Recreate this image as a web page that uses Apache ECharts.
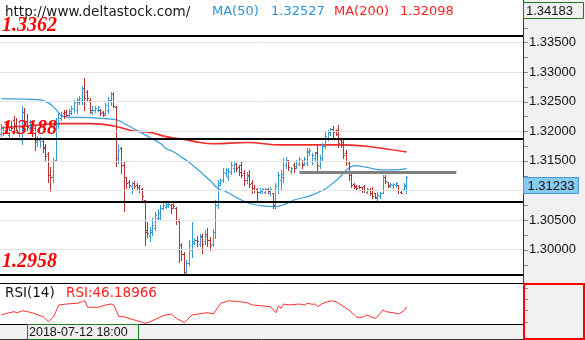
<!DOCTYPE html>
<html>
<head>
<meta charset="utf-8">
<script src="https://cdn.jsdelivr.net/npm/echarts@6/dist/echarts.min.js"></script>
<style>
  html, body { margin: 0; padding: 0; background: #ffffff; }
  #chart { width: 585px; height: 340px; }
</style>
</head>
<body>
<div id="chart"></div>
<script>
// Hourly OHLC bars, oldest first
const openPrices = [
  1.3196,1.3201,1.3213,1.3194,1.3209,1.3219,1.3211,1.3199,1.3186,1.3233,
  1.3218,1.3206,1.3213,1.3206,1.3182,1.3186,1.3184,1.3174,1.3162,1.3127,
  1.3122,1.3152,1.3213,1.3223,1.3231,1.3233,1.3228,1.3231,1.3238,1.3236,
  1.3250,1.3253,1.3273,1.3267,1.3253,1.3233,1.3236,1.3236,1.3236,1.3233,
  1.3231,1.3236,1.3252,1.3263,1.3241,1.3155,1.3172,1.3143,1.3122,1.3115,
  1.3108,1.3113,1.3110,1.3106,1.3103,1.3084,1.3034,1.3024,1.3030,1.3037,
  1.3054,1.3054,1.3071,1.3073,1.3074,1.3076,1.3078,1.3071,1.3049,1.3008,
  1.2992,1.2963,1.2978,1.3000,1.3012,1.3017,1.3010,1.3024,1.3014,1.3027,
  1.3017,1.3010,1.3030,1.3076,1.3113,1.3118,1.3130,1.3122,1.3132,1.3138,
  1.3145,1.3140,1.3143,1.3130,1.3118,1.3127,1.3113,1.3105,1.3103,1.3098,
  1.3100,1.3098,1.3103,1.3096,1.3095,1.3074,1.3101,1.3118,1.3122,1.3143,
  1.3150,1.3133,1.3143,1.3142,1.3145,1.3149,1.3145,1.3147,1.3165,1.3149,
  1.3155,1.3165,1.3142,1.3155,1.3176,1.3189,1.3198,1.3204,1.3201,1.3203,
  1.3186,1.3182,1.3164,1.3147,1.3127,1.3111,1.3108,1.3108,1.3106,1.3108,
  1.3098,1.3101,1.3101,1.3095,1.3088,1.3091,1.3096,1.3123,1.3115,1.3108,
  1.3110,1.3110,1.3110,1.3098,1.3103,1.3108
];
const highPrices = [
  1.3213,1.3209,1.3216,1.3206,1.3218,1.3225,1.3223,1.3213,1.3243,1.3240,
  1.3230,1.3219,1.3218,1.3211,1.3192,1.3191,1.3187,1.3179,1.3165,1.3140,
  1.3155,1.3223,1.3231,1.3233,1.3236,1.3236,1.3238,1.3243,1.3253,1.3257,
  1.3260,1.3277,1.3290,1.3270,1.3257,1.3243,1.3243,1.3243,1.3238,1.3235,
  1.3248,1.3258,1.3267,1.3267,1.3243,1.3177,1.3174,1.3149,1.3123,1.3118,
  1.3115,1.3116,1.3113,1.3110,1.3105,1.3084,1.3046,1.3039,1.3054,1.3064,
  1.3068,1.3076,1.3079,1.3079,1.3079,1.3078,1.3078,1.3073,1.3052,1.3012,
  1.2997,1.2983,1.3017,1.3047,1.3019,1.3024,1.3027,1.3027,1.3034,1.3037,
  1.3022,1.3035,1.3084,1.3118,1.3120,1.3138,1.3138,1.3138,1.3149,1.3149,
  1.3147,1.3143,1.3149,1.3135,1.3132,1.3135,1.3118,1.3110,1.3105,1.3105,
  1.3105,1.3105,1.3105,1.3106,1.3096,1.3113,1.3132,1.3135,1.3155,1.3157,
  1.3152,1.3140,1.3147,1.3152,1.3157,1.3152,1.3157,1.3171,1.3172,1.3164,
  1.3165,1.3177,1.3160,1.3181,1.3198,1.3203,1.3206,1.3209,1.3203,1.3211,
  1.3189,1.3189,1.3169,1.3149,1.3130,1.3113,1.3110,1.3110,1.3106,1.3110,
  1.3105,1.3105,1.3106,1.3096,1.3098,1.3098,1.3127,1.3127,1.3115,1.3113,
  1.3113,1.3115,1.3110,1.3100,1.3113,1.3125
];
const lowPrices = [
  1.3192,1.3194,1.3198,1.3189,1.3201,1.3203,1.3198,1.3192,1.3179,1.3203,
  1.3203,1.3199,1.3192,1.3169,1.3176,1.3174,1.3165,1.3149,1.3115,1.3100,
  1.3115,1.3149,1.3206,1.3219,1.3223,1.3226,1.3225,1.3230,1.3233,1.3231,
  1.3246,1.3246,1.3236,1.3253,1.3231,1.3230,1.3233,1.3235,1.3228,1.3225,
  1.3228,1.3231,1.3245,1.3241,1.3142,1.3147,1.3130,1.3066,1.3105,1.3106,
  1.3096,1.3105,1.3101,1.3098,1.3081,1.3008,1.3022,1.3015,1.3025,1.3034,
  1.3051,1.3051,1.3068,1.3071,1.3073,1.3062,1.3071,1.3044,1.2980,1.2983,
  1.2958,1.2958,1.2975,1.2988,1.3010,1.3007,1.3007,1.2995,1.3010,1.3007,
  1.3000,1.3007,1.3020,1.3071,1.3110,1.3115,1.3125,1.3118,1.3128,1.3132,
  1.3133,1.3127,1.3122,1.3110,1.3113,1.3106,1.3096,1.3098,1.3081,1.3096,
  1.3095,1.3096,1.3096,1.3093,1.3071,1.3071,1.3096,1.3101,1.3115,1.3138,
  1.3135,1.3130,1.3132,1.3138,1.3143,1.3138,1.3143,1.3143,1.3160,1.3145,
  1.3152,1.3130,1.3138,1.3152,1.3172,1.3186,1.3194,1.3189,1.3194,1.3174,
  1.3174,1.3155,1.3143,1.3118,1.3106,1.3105,1.3101,1.3105,1.3098,1.3098,
  1.3096,1.3093,1.3088,1.3088,1.3083,1.3088,1.3095,1.3113,1.3106,1.3106,
  1.3105,1.3106,1.3096,1.3096,1.3101,1.3096
];
const closePrices = [
  1.3206,1.3208,1.3203,1.3203,1.3206,1.3209,1.3203,1.3209,1.3233,1.3216,
  1.3208,1.3213,1.3203,1.3186,1.3189,1.3187,1.3172,1.3159,1.3127,1.3122,
  1.3149,1.3213,1.3223,1.3228,1.3226,1.3228,1.3235,1.3240,1.3250,1.3253,
  1.3257,1.3273,1.3257,1.3257,1.3236,1.3236,1.3240,1.3241,1.3231,1.3228,
  1.3245,1.3252,1.3263,1.3243,1.3155,1.3169,1.3143,1.3122,1.3113,1.3110,
  1.3113,1.3108,1.3106,1.3101,1.3091,1.3030,1.3029,1.3034,1.3042,1.3059,
  1.3062,1.3071,1.3076,1.3078,1.3078,1.3071,1.3074,1.3051,1.3008,1.2992,
  1.2963,1.2978,1.3008,1.3015,1.3017,1.3014,1.3022,1.3010,1.3024,1.3017,
  1.3008,1.3030,1.3076,1.3110,1.3116,1.3132,1.3135,1.3133,1.3143,1.3145,
  1.3138,1.3132,1.3127,1.3118,1.3125,1.3111,1.3101,1.3101,1.3098,1.3101,
  1.3103,1.3103,1.3100,1.3103,1.3076,1.3108,1.3127,1.3128,1.3149,1.3152,
  1.3140,1.3138,1.3138,1.3149,1.3154,1.3143,1.3154,1.3167,1.3169,1.3160,
  1.3164,1.3143,1.3155,1.3176,1.3192,1.3199,1.3204,1.3198,1.3196,1.3181,
  1.3177,1.3160,1.3149,1.3127,1.3110,1.3106,1.3105,1.3106,1.3101,1.3101,
  1.3103,1.3096,1.3091,1.3089,1.3093,1.3096,1.3123,1.3116,1.3110,1.3111,
  1.3111,1.3113,1.3101,1.3096,1.3110,1.31233
];

// Moving averages, as [bar index, value]
const ma50Points = [
  [0,1.3255],[11,1.3254],[15,1.3253],[18,1.3248],[20,1.3241],[22,1.3231],[23,1.3226],
  [25,1.3224],[34,1.3223],[43,1.3220],[45,1.3218],[47,1.3213],[50,1.3206],[53,1.3199],
  [57,1.3189],[61,1.3179],[63,1.3171],[66,1.3165],[68,1.3159],[72,1.3147],[76,1.3132],
  [80,1.3116],[83,1.3103],[86,1.3098],[90,1.3088],[95,1.3078],[100,1.3074],[105,1.3073],
  [108,1.3076],[112,1.3084],[118,1.3091],[124,1.3103],[127,1.3113],[130,1.3125],
  [132,1.3135],[135,1.3142],[139,1.3140],[145,1.3135],[150,1.3135],[155,1.3137]
];
const ma200Points = [
  [0,1.3206],[7,1.3208],[15,1.3211],[22,1.3213],[34,1.3213],[43,1.3209],[50,1.3201],
  [57,1.3198],[63,1.3191],[70,1.3186],[76,1.3181],[81,1.3179],[94,1.3181],[107,1.3177],
  [119,1.3177],[131,1.3177],[141,1.3174],[155,1.3165]
];

// RSI(14), as [bar index, value]
const rsiPoints = [
  [0,36.3],[3,39.1],[5,40.4],[6,38.8],[8,41.6],[10,40.4],[12,38.8],[16,34.1],[18,27.9],
  [20,34.1],[22,48.8],[25,50.0],[29,50.9],[31,52.9],[32,54.1],[33,45.9],[37,45.9],
  [40,48.8],[42,50.0],[43,48.8],[45,34.1],[47,34.1],[50,30.9],[55,25.9],[57,27.9],
  [61,34.1],[63,36.3],[65,37.5],[67,32.1],[70,26.6],[71,30.0],[73,36.3],[77,38.4],
  [79,39.1],[81,37.5],[84,50.9],[87,54.1],[91,52.9],[94,51.6],[96,48.8],[100,47.5],
  [103,46.6],[105,39.1],[106,47.5],[107,44.6],[108,50.0],[110,48.8],[114,50.0],
  [116,48.8],[117,50.9],[119,49.6],[120,50.0],[121,46.6],[123,50.9],[126,54.1],
  [128,52.9],[130,48.8],[131,46.6],[133,42.5],[135,36.3],[136,33.4],[138,33.4],
  [140,36.3],[141,34.1],[143,32.1],[144,35.0],[146,42.5],[147,40.4],[150,39.1],
  [152,37.5],[154,41.6],[155,46.19]
];

// Price axis
const priceTicks = [1.300, 1.305, 1.310, 1.315, 1.320, 1.325, 1.330, 1.335];
const priceTickMarks = [1.2975, 1.3000, 1.3025, 1.3050, 1.3075, 1.3100, 1.3125, 1.3150,
  1.3175, 1.3200, 1.3225, 1.3250, 1.3275, 1.3300, 1.3325, 1.3350, 1.3375, 1.3400];
const rsiTickMarks = [70, 56, 42, 28];
const axisTopPrice = 1.34183;
const axisBottomPrice = 1.29489;
const rsiRange = [25, 75];
const slotRange = [-0.5, 199.5];

// Drawn levels
const levelLines = [1.3362, 1.3188, 1.30805, 1.2958];
const labelledLevels = [1.3362, 1.3188, 1.2958];
const channelLevel = 1.3130;
const channelSpan = [114, 174];

// Header texts
const siteText = 'http://www.deltastock.com/';
const ma50Text = ['MA(50)', '1.32527'];
const ma200Text = ['MA(200)', '1.32098'];
const rsiText = ['RSI(14)', 'RSI:46.18966'];
const cursorTime = '2018-07-12 18:00';

const UP = '#3399d9';
const DOWN = '#b83030';

const bars = openPrices.map((o, i) => [i, o, closePrices[i], lowPrices[i], highPrices[i]]);

function renderOhlc(params, api) {
  const i = api.value(0);
  const o = api.value(1), c = api.value(2), l = api.value(3), h = api.value(4);
  const pO = api.coord([i, o]);
  const pC = api.coord([i, c]);
  const pL = api.coord([i, l]);
  const pH = api.coord([i, h]);
  const snap = v => Math.round(v) + 0.5;
  const x = Math.floor(pO[0]) + 0.5;
  const st = { stroke: c >= o ? UP : DOWN, lineWidth: 1 };
  return {
    type: 'group',
    children: [
      { type: 'line', shape: { x1: x, y1: Math.round(pH[1]), x2: x, y2: Math.round(pL[1]) + 1 }, style: st },
      { type: 'line', shape: { x1: x - 1.5, y1: snap(pO[1]), x2: x, y2: snap(pO[1]) }, style: st },
      { type: 'line', shape: { x1: x, y1: snap(pC[1]), x2: x + 1.5, y2: snap(pC[1]) }, style: st }
    ]
  };
}

const levelLabel = (dy) => ({
  show: true,
  position: 'insideStartTop',
  distance: [2, dy],
  formatter: p => Number(p.value).toFixed(4),
  color: '#ff0000',
  fontFamily: 'Liberation Serif',
  fontStyle: 'italic',
  fontWeight: 'bold',
  fontSize: 20
});
const levelDy = { 1.3362: 0, 1.3188: 0, 1.2958: 3 };

const chart = echarts.init(document.getElementById('chart'), null, { renderer: 'canvas' });

const option = {
  animation: false,
  backgroundColor: '#ffffff',
  grid: [
    { left: 0, top: 2, width: 523, height: 278 },
    { left: 0, top: 284, width: 523, height: 40 }
  ],
  xAxis: [
    { type: 'value', gridIndex: 0, min: slotRange[0], max: slotRange[1], show: false },
    { type: 'value', gridIndex: 1, min: slotRange[0], max: slotRange[1], show: false }
  ],
  yAxis: [
    {
      type: 'value', gridIndex: 0, position: 'right', z: 20,
      min: axisBottomPrice, max: axisTopPrice,
      axisLine: { show: false, onZero: false },
      splitLine: { show: false },
      axisTick: { show: false },
      axisLabel: {
        customValues: priceTicks, margin: 6,
        formatter: v => Number(v).toFixed(5),
        fontFamily: 'Liberation Sans', fontSize: 13, color: '#111111'
      }
    },
    {
      type: 'value', gridIndex: 1, position: 'right',
      min: rsiRange[0], max: rsiRange[1],
      axisLine: { show: false, onZero: false }, splitLine: { show: false },
      axisTick: { show: false }, axisLabel: { show: false }
    }
  ],
  series: [
    {
      name: 'grid', type: 'line', data: [], xAxisIndex: 0, yAxisIndex: 0, z: 1, silent: true,
      markLine: {
        silent: true, symbol: ['none', 'none'], animation: false, precision: 6,
        label: { show: false },
        lineStyle: { color: '#e2e2e2', width: 1, type: 'solid' },
        data: priceTicks.map(v => ({ yAxis: v }))
      }
    },
    {
      name: 'levels', type: 'line', data: [], xAxisIndex: 0, yAxisIndex: 0, z: 2, silent: true,
      markLine: {
        silent: true, symbol: ['none', 'none'], animation: false, precision: 6,
        lineStyle: { color: '#000000', width: 2, type: 'solid' },
        data: levelLines.map(v => ({
          yAxis: v,
          label: labelledLevels.includes(v) ? levelLabel(levelDy[v]) : { show: false }
        })).concat([[
          { coord: [channelSpan[0], channelLevel], lineStyle: { color: '#808080', width: 3 }, label: { show: false } },
          { coord: [channelSpan[1], channelLevel] }
        ]])
      }
    },
    {
      name: 'MA(200)', type: 'line', data: ma200Points, xAxisIndex: 0, yAxisIndex: 0, z: 3,
      smooth: 0.4, showSymbol: false, symbol: 'none',
      lineStyle: { color: '#f22a2a', width: 1.6 }
    },
    {
      name: 'MA(50)', type: 'line', data: ma50Points, xAxisIndex: 0, yAxisIndex: 0, z: 3,
      smooth: 0.4, showSymbol: false, symbol: 'none',
      lineStyle: { color: '#3a9fdc', width: 1.2 }
    },
    {
      name: 'OHLC', type: 'custom', data: bars, xAxisIndex: 0, yAxisIndex: 0, z: 4,
      renderItem: renderOhlc, clip: true,
      encode: { x: 0, y: [1, 2, 3, 4] }
    },
    {
      name: 'RSI', type: 'line', data: rsiPoints, xAxisIndex: 1, yAxisIndex: 1, z: 3,
      showSymbol: false, symbol: 'none',
      lineStyle: { color: '#ff3030', width: 1 }
    }
  ]
};

chart.setOption(option);

// Overlay boxes, axis ticks and header texts
const lastPrice = closePrices[closePrices.length - 1];
const lastY = chart.convertToPixel({ yAxisIndex: 0 }, lastPrice);
const topY = chart.convertToPixel({ yAxisIndex: 0 }, axisTopPrice);
const headerFont = '13px "DejaVu Sans"';
const axisFont = '13px "Liberation Sans"';

const tickLines = priceTickMarks.map(v => {
  const y = Math.round(chart.convertToPixel({ yAxisIndex: 0 }, v)) + 0.5;
  return { type: 'line', z: 40, shape: { x1: 524, y1: y, x2: 528, y2: y }, style: { stroke: '#8a8a8a', lineWidth: 1 } };
}).concat(rsiTickMarks.map(v => {
  const y = Math.round(chart.convertToPixel({ yAxisIndex: 1 }, v)) + 0.5;
  return { type: 'line', z: 40, shape: { x1: 525, y1: y, x2: 528, y2: y }, style: { stroke: '#8a8a8a', lineWidth: 1 } };
}));

chart.setOption({
  graphic: [
    // right axis strip and time strip backgrounds
    { type: 'rect', z: -100, shape: { x: 523, y: 0, width: 62, height: 340 }, style: { fill: '#f1f1f1' } },
    { type: 'rect', z: -100, shape: { x: 0, y: 325, width: 523, height: 15 }, style: { fill: '#f1f1f1' } },
    { type: 'line', z: 50, shape: { x1: 523.5, y1: 0, x2: 523.5, y2: 340 }, style: { stroke: '#333333', lineWidth: 1 } },
    // RSI pane borders
    { type: 'line', z: 50, shape: { x1: 0, y1: 283.5, x2: 523, y2: 283.5 }, style: { stroke: '#000000', lineWidth: 1 } },
    { type: 'line', z: 50, shape: { x1: 0, y1: 324.5, x2: 523, y2: 324.5 }, style: { stroke: '#000000', lineWidth: 1 } },
    { type: 'line', z: 50, shape: { x1: 0, y1: 339.5, x2: 523, y2: 339.5 }, style: { stroke: '#333333', lineWidth: 1 } },
    { type: 'rect', z: 50, shape: { x: 524, y: 284, width: 60, height: 55 }, style: { fill: 'none', stroke: '#ff0000', lineWidth: 2 } },
    // axis top value
    { type: 'rect', z: 50, shape: { x: 523.5, y: topY + 0.5, width: 60, height: 16 }, style: { fill: '#f1f1f1', stroke: '#1e7a1e', lineWidth: 1 } },
    { type: 'text', z: 51, x: 526, y: topY + 9, style: { text: axisTopPrice.toFixed(5), font: axisFont, fill: '#111111', verticalAlign: 'middle' } },
    // last price
    { type: 'rect', z: 50, shape: { x: 523.5, y: Math.round(lastY) + 0.5, width: 55, height: 16 }, style: { fill: '#87cbef', stroke: '#3d9ed8', lineWidth: 1 } },
    { type: 'text', z: 51, x: 551, y: Math.round(lastY) + 9, style: { text: lastPrice.toFixed(5), font: axisFont, fill: '#111111', align: 'center', verticalAlign: 'middle' } },
    // header
    { type: 'text', z: 51, x: 5, y: 12, style: { text: siteText, font: '13.5px "DejaVu Sans"', fill: '#1a1a1a', verticalAlign: 'middle' } },
    { type: 'text', z: 51, x: 212, y: 12, style: { text: ma50Text[0], font: headerFont, fill: '#2a93d5', verticalAlign: 'middle' } },
    { type: 'text', z: 51, x: 271, y: 12, style: { text: ma50Text[1], font: headerFont, fill: '#2a93d5', verticalAlign: 'middle' } },
    { type: 'text', z: 51, x: 334, y: 12, style: { text: ma200Text[0], font: headerFont, fill: '#ff2020', verticalAlign: 'middle' } },
    { type: 'text', z: 51, x: 400, y: 12, style: { text: ma200Text[1], font: headerFont, fill: '#ff2020', verticalAlign: 'middle' } },
    // RSI header
    { type: 'text', z: 51, x: 5, y: 293, style: { text: rsiText[0], font: '13.5px "DejaVu Sans"', fill: '#111111', verticalAlign: 'middle' } },
    { type: 'text', z: 51, x: 66, y: 293, style: { text: rsiText[1], font: '13.5px "DejaVu Sans"', fill: '#ff2020', verticalAlign: 'middle' } },
    // cursor time box
    { type: 'rect', z: 50, shape: { x: 27.5, y: 324.5, width: 111, height: 15 }, style: { fill: '#f1f1f1', stroke: '#1e7a1e', lineWidth: 1 } },
    { type: 'text', z: 51, x: 29, y: 332.5, style: { text: cursorTime, font: '12.5px "Liberation Sans"', fill: '#111111', verticalAlign: 'middle' } }
  ].concat(tickLines)
});
</script>
</body>
</html>
